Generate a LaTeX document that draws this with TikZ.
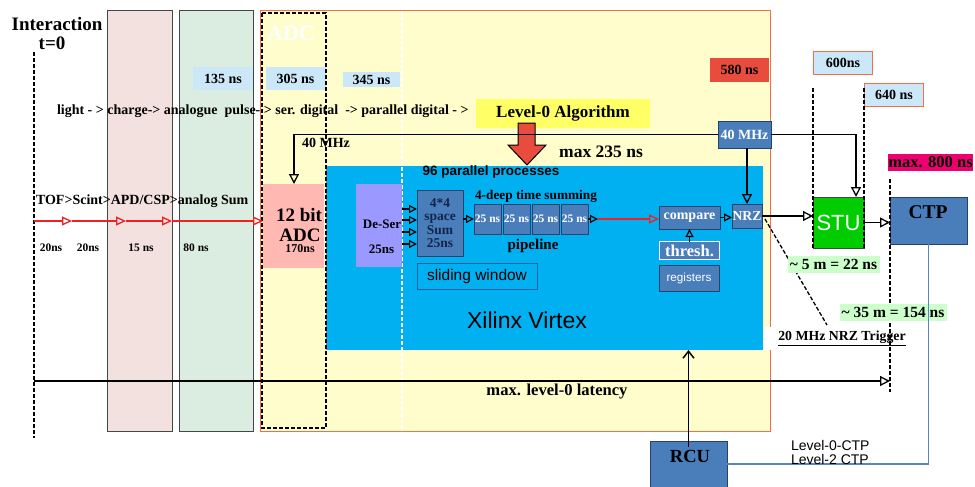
\documentclass[tikz,border=0pt]{standalone}
\usepackage{fontspec}
\setmainfont{Liberation Serif}
\setsansfont{Liberation Sans}
\usetikzlibrary{arrows.meta,calc}
\newcommand\fsz[1]{\fontsize{#1}{#1}\selectfont}
\definecolor{pinkcol}{HTML}{F2E1DF}
\definecolor{greencol}{HTML}{DAEDE0}
\definecolor{yellowbg}{HTML}{FFFDCC}
\definecolor{orangeb}{HTML}{F0704A}
\definecolor{xblue}{HTML}{00B0F0}
\definecolor{ltblue}{HTML}{CCE8F8}
\definecolor{red580}{HTML}{E84C3D}
\definecolor{mag}{HTML}{EE0070}
\definecolor{steel}{HTML}{4A7EBB}
\definecolor{steeld}{HTML}{24426E}
\definecolor{adcpink}{HTML}{FFB8B2}
\definecolor{deserc}{HTML}{9999FF}
\definecolor{stug}{HTML}{00CC00}
\definecolor{lgreen}{HTML}{CCFFCC}
\definecolor{lvly}{HTML}{FFFF66}
\definecolor{ctpline}{HTML}{5B84C4}
\definecolor{redline}{HTML}{EE2222}
\definecolor{colb}{HTML}{404848}
\definecolor{navytxt}{HTML}{14244A}
\definecolor{slideb}{HTML}{1F5FA0}
\begin{document}
\begin{tikzpicture}[x=1pt,y=-1pt,
  every node/.style={inner sep=0pt,outer sep=0pt},
  tm/.style={fill=ltblue,font=\bfseries\fsz{14}},
  tmb/.style={fill=ltblue,draw=orangeb,line width=1pt,font=\bfseries\fsz{14}},
  steelbox/.style={fill=steel,draw=steeld,line width=1pt},
  tri/.style={-{Triangle[open,length=10pt,width=10pt]},line width=1.3pt},
  tris/.style={-{Triangle[open,length=8pt,width=8pt]},line width=1.2pt},
  redtri/.style={redline,-{Triangle[open,length=10pt,width=9pt]},line width=1.3pt},
  dline/.style={dash pattern=on 4pt off 2pt,line width=1.3pt},
  lbl/.style={font=\bfseries\fsz{#1}},
  grn/.style={fill=lgreen,font=\bfseries\fsz{15.5}}
]
\useasboundingbox (0,0) rectangle (975,487);
\fill[white] (0,0) rectangle (975,487);

% columns
\draw[fill=pinkcol,draw=colb,line width=1pt] (107,11) rectangle (172,431);
\draw[fill=greencol,draw=colb,line width=1pt] (179,11) rectangle (253,431);
\draw[fill=yellowbg,draw=orangeb,line width=1pt] (260,11) rectangle (770,431);

% Xilinx area
\node[fill=xblue,minimum width=437pt,minimum height=184pt] (xil) at (544.5,258) {};
\draw[white,dash pattern=on 4pt off 2pt,line width=1.2pt] (402,11) -- (402,431);
\node[font=\sffamily\fsz{23}] (xiltxt) at (527,320) {Xilinx Virtex};
\node[font=\sffamily\bfseries\fsz{13.5}] (par) at (491,172) {96 parallel processes};

% white region behind trigger label
\node[fill=white,minimum width=147pt,minimum height=23pt] (nrzbg) at (837,338.5) {};
\node[font=\bfseries\fsz{13.8}] (nrzt) at (842,338) {\underline{20 MHz NRZ Trigger}};

% left texts
\node[lbl=19] (int) at (57,24) {Interaction};
\node[lbl=19] (tzero) at (52,43) {t=0};
\node[font=\bfseries\fsz{22},text=white] (adclbl) at (291,33) {ADC};

% time boxes
\node[tm,minimum width=60pt,minimum height=23pt] (t135) at (223,78.5) {135 ns};
\node[tm,minimum width=60pt,minimum height=23pt] (t305) at (295.5,79) {305 ns};
\node[tm,minimum width=57pt,minimum height=15pt] (t345) at (371.5,79.5) {345 ns};
\node[fill=red580,minimum width=59pt,minimum height=24pt,font=\bfseries\fsz{14}] (t580) at (739.5,70) {580 ns};
\node[tmb,minimum width=59pt,minimum height=23pt] (t600) at (843,63) {600ns};
\node[tmb,minimum width=59pt,minimum height=23pt] (t640) at (894,95) {640 ns};
\node[fill=mag,minimum width=85pt,minimum height=17pt,font=\bfseries\fsz{16.5}] (t800) at (930.5,162) {max. 800 ns};

% flow text
\node[lbl=14,anchor=west] (flow) at (57,111) {light - > charge-> analogue\ \ pulse- > ser. digital\ \ -> parallel digital - >};
\node[fill=lvly,minimum width=174pt,minimum height=29pt,font=\bfseries\fsz{17}] (lvl) at (563,113) {Level-0 Algorithm};
\draw[fill=red580,draw=black,line width=1pt] (518,123) -- (535,123) -- (535,145) -- (546,145) -- (527,165) -- (508,145) -- (518,145) -- cycle;
\node[lbl=17.5] (m235) at (601,152) {max 235 ns};

% ADC
\node[fill=adcpink,minimum width=61pt,minimum height=84pt] (adc) at (293.5,226) {};
\node[lbl=19] (adc1) at (299,215) {12 bit};
\node[lbl=19] (adc2) at (300,235) {ADC};
\node[lbl=12] (adc3) at (300,249) {170ns};
\draw[dline] (262,13) rectangle (326,428);

% De-Ser
\node[fill=deserc,minimum width=46pt,minimum height=83pt] (deser) at (379,225.5) {};
\node[lbl=13] (des1) at (382,224) {De-Ser};
\node[lbl=13] (des2) at (381.5,249) {25ns};

% space sum
\node[steelbox,minimum width=46pt,minimum height=66pt,align=center,text=navytxt,font=\bfseries\fontsize{13.5}{13.3}\selectfont] (sum) at (440,223) {4*4\\space\\Sum\\25ns};
\foreach \yy in {209,220,232,244} \draw[tris] (deser.east |- 0,\yy) -- (sum.west |- 0,\yy);

% pipeline
\node[lbl=13.3] (deep) at (536,196) {4-deep time summing};
\node[lbl=15] (pipe) at (533,246) {pipeline};
\foreach \nm/\xx in {p1/487.5,p2/516.5,p3/545.5,p4/574.5}
  \node[steelbox,minimum width=27pt,minimum height=30pt,text=white,font=\bfseries\fsz{11.5}] (\nm) at (\xx,219) {25 ns};
\draw[tris] (sum.east |- p1.west) -- (p1.west);
\node[draw=slideb,line width=1pt,minimum width=120pt,minimum height=26pt,font=\sffamily\fsz{15.5}] (slide) at (477,276) {sliding window};

% compare etc.
\node[steelbox,minimum width=61pt,minimum height=23pt,text=white,font=\bfseries\fsz{14}] (cmp) at (689.5,217.5) {compare};
\node[fill=steel,draw=white,line width=1.5pt,minimum width=60pt,minimum height=18pt,text=white,font=\bfseries\fsz{16.5}] (thr) at (689.5,250.5) {thresh.};
\node[steelbox,minimum width=60pt,minimum height=26pt,text=white,font=\sffamily\fsz{11.7}] (reg) at (689,278) {registers};
\node[steelbox,minimum width=30pt,minimum height=24pt,text=white,font=\bfseries\fsz{13.7}] (nrz) at (747,216) {NRZ};
\draw[tris] (p4.east) -- ++(10,0) coordinate (pe);
\draw[redline,line width=1.3pt,-{Triangle[open,length=10pt,width=9pt]}] (pe) -- (cmp.west |- pe);
\draw[tris] (thr.north) -- (cmp.south);
\draw[tris] (cmp.east) -- (cmp.east -| nrz.west);

% 40 MHz
\node[steelbox,minimum width=53pt,minimum height=27pt,text=white,font=\bfseries\fsz{14}] (mhz) at (744.5,134.5) {40 MHz};
\node[lbl=14] (mhzlbl) at (326,143) {40 MHz};

% STU, CTP
\node[fill=stug,draw=colb,line width=1pt,minimum width=51pt,minimum height=51pt,text=white,font=\sffamily\fsz{22}] (stu) at (838.5,222.5) {STU};
\node[steelbox,minimum width=77pt,minimum height=47pt] (ctp) at (928.5,220.5) {};
\node[lbl=19.5] (ctptxt) at (928,212) {CTP};
\draw[dline] (813,88) -- (813,248);
\draw[dline] (864,88) -- (864,248);
\draw[dline] (890,179) -- (890,392);
\draw[dline] (34,52) -- (34,438);

\coordinate (mhzL) at (294,134.5);
\draw[tri] (mhz.west) -- (mhzL) -- (mhzL |- adc.north);
\coordinate (mhzR) at (856,134.5);
\draw[tri] (mhz.east) -- (mhzR) -- (mhzR |- stu.north);
\draw[tri] (mhz.south -| nrz.north) -- (nrz.north);
\draw[tri] (nrz.east) -- (nrz.east -| stu.west);
\draw[tri] (stu.east) -- (stu.east -| ctp.west);

% cable labels
\coordinate (diagEnd) at (827,325);
\draw[dline] (nrz.east) ++(3,3) -- (diagEnd);
\node[grn,minimum width=92pt,minimum height=17pt] (l5m) at (833.5,264) {\textasciitilde\ 5 m = 22 ns};
\node[grn,minimum width=107pt,minimum height=17pt] (l35m) at (893,312) {\textasciitilde\ 35 m = 154 ns};

% TOF chain
\node[lbl=14,anchor=west] (tof) at (36,201) {TOF>Scint>APD/CSP>analog Sum};
\coordinate (r0) at (34,221);
\coordinate (r1) at (72,221);
\coordinate (r2) at (126,221);
\coordinate (r3) at (172,221);
\draw[redtri] (r0) -- (r1);
\draw[redtri] (r1) -- (r2);
\draw[redtri] (r2) -- (r3);
\draw[redtri] (r3) -- (r3 -| adc.west);
\node[lbl=11.5] (d1) at (51,248) {20ns};
\node[lbl=11.5] (d2) at (88,248) {20ns};
\node[lbl=11.5] (d3) at (141,248) {15 ns};
\node[lbl=11.5] (d4) at (196,248) {80 ns};

% latency
\coordinate (lat0) at (34,381);
\coordinate (lat1) at (890,381);
\draw[tri] (lat0) -- (lat1);
\node[lbl=16.6] (lattxt) at (557,392) {max. level-0 latency};

% RCU
\node[steelbox,minimum width=77pt,minimum height=46pt] (rcu) at (688.5,464) {};
\node[lbl=18.5] (rcutxt) at (690,456) {RCU};
\draw[ctpline,line width=1.5pt] (ctp.south) |- (rcu.east);
\draw[line width=1.5pt,-{Straight Barb[length=7pt,width=11pt]}] ($(rcu.north)+(0,6)$) -- (xil.south -| rcu.north);
\node[anchor=west,align=left,font=\sffamily\fontsize{14}{14}\selectfont] (lvlctp) at (791,452) {Level-0-CTP\\Level-2 CTP};
\end{tikzpicture}
\end{document}
